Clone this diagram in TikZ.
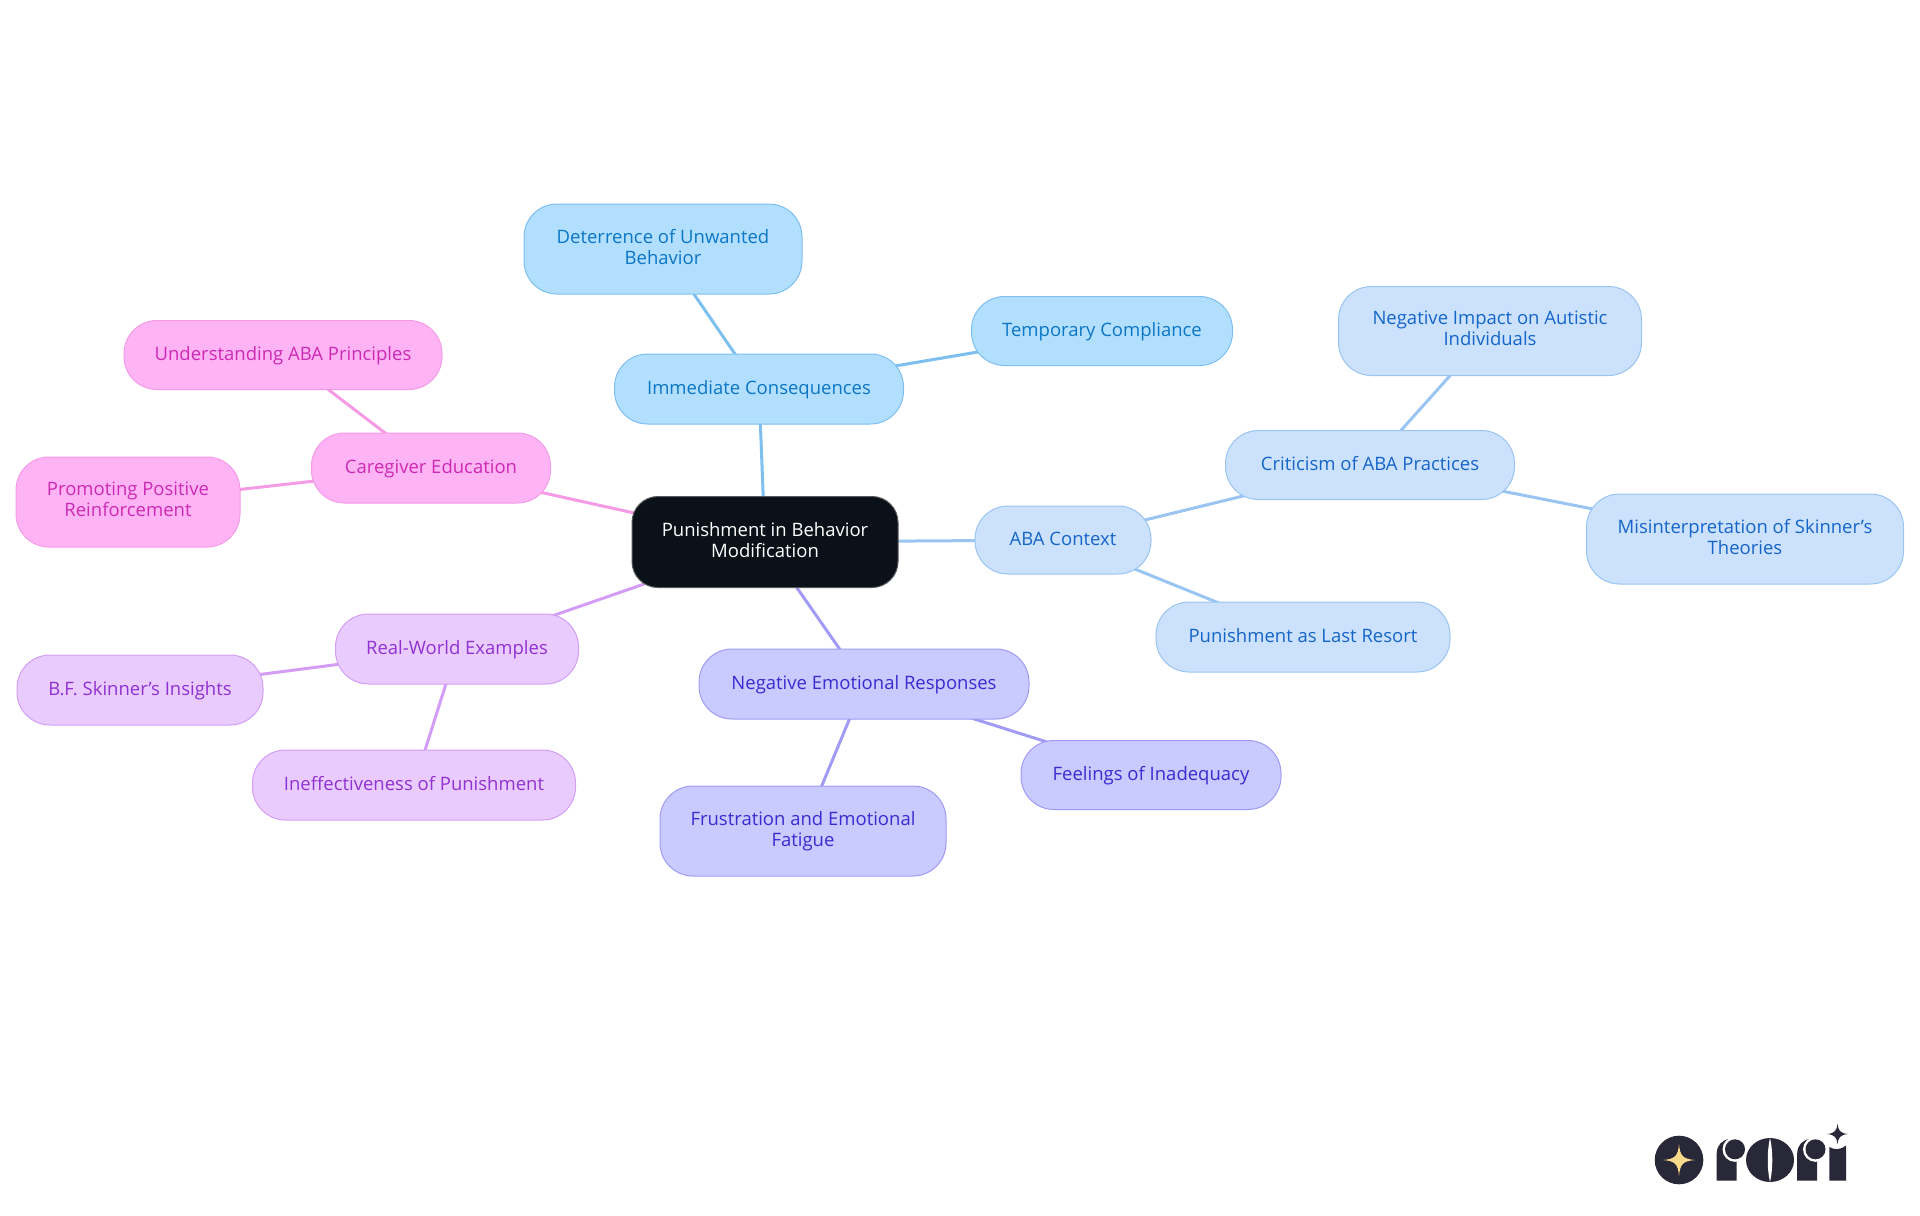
\documentclass[tikz,border=0pt]{standalone}
\usepackage{fontspec}
\setmainfont{Open Sans}
\usetikzlibrary{backgrounds}
\definecolor{immediatefill}{HTML}{B3DFFF}
\definecolor{immediateline}{HTML}{7DC0F0}
\definecolor{immediatetext}{HTML}{0B76C4}
\definecolor{abafill}{HTML}{CCE2FC}
\definecolor{abaline}{HTML}{9AC4F2}
\definecolor{abatext}{HTML}{1565C8}
\definecolor{negativefill}{HTML}{C9CAFE}
\definecolor{negativeline}{HTML}{A29BF5}
\definecolor{negativetext}{HTML}{3A2CCF}
\definecolor{examplefill}{HTML}{E9CCFD}
\definecolor{exampleline}{HTML}{D49DF5}
\definecolor{exampletext}{HTML}{9031D0}
\definecolor{caregiverfill}{HTML}{FEB4F4}
\definecolor{caregiverline}{HTML}{F59BE6}
\definecolor{caregivertext}{HTML}{CC2AB5}
\definecolor{rootfill}{HTML}{0B1119}
\definecolor{logodark}{HTML}{292838}
\definecolor{logostar}{HTML}{FBD98A}
\newcommand{\linestrut}{\rule[-2.35pt]{0pt}{10.5pt}}
\tikzset{
    mapnode/.style={rounded corners=16.5pt, line width=0.5pt, align=center, inner sep=0pt,
        font=\fontsize{9.25}{10.5}\selectfont,
        execute at begin node=\linestrut, execute at end node=\linestrut},
    boxsize/.style 2 args={minimum width=#1*0.5pt, minimum height=#2*0.5pt},
    immediatenode/.style={mapnode, fill=immediatefill, draw=immediateline, text=immediatetext},
    abanode/.style={mapnode, fill=abafill, draw=abaline, text=abatext},
    negativenode/.style={mapnode, fill=negativefill, draw=negativeline, text=negativetext},
    examplenode/.style={mapnode, fill=examplefill, draw=exampleline, text=exampletext},
    caregivernode/.style={mapnode, fill=caregiverfill, draw=caregiverline, text=caregivertext},
    rootnode/.style={mapnode, rounded corners=13pt, fill=rootfill, draw=gray!70!black, text=white},
    link/.style={line width=1.5pt}
}
\begin{document}
\begin{tikzpicture}[x=0.5pt, y=-0.5pt]
    \useasboundingbox (0,0) rectangle (1920,1215);

    \node[rootnode, boxsize={266}{91}] (root) at (765,542) {Punishment in Behavior\\Modification};

    \node[immediatenode, boxsize={289}{70}] (immediate) at (759,389) {Immediate Consequences};
    \node[immediatenode, boxsize={278}{90}] (deterrence) at (663,249) {Deterrence of Unwanted\\Behavior};
    \node[immediatenode, boxsize={261}{69}] (temporary) at (1102,331) {Temporary Compliance};

    \node[abanode, boxsize={176}{68}] (context) at (1063,540) {ABA Context};
    \node[abanode, boxsize={289}{69}] (criticism) at (1370,465) {Criticism of ABA Practices};
    \node[abanode, boxsize={303}{89}] (impact) at (1490,331) {Negative Impact on Autistic\\Individuals};
    \node[abanode, boxsize={317}{90}] (skinner) at (1745,539) {Misinterpretation of Skinner's\\Theories};
    \node[abanode, boxsize={294}{70}] (resort) at (1303,637) {Punishment as Last Resort};

    \node[negativenode, boxsize={330}{70}] (negative) at (864,684) {Negative Emotional Responses};
    \node[negativenode, boxsize={260}{69}] (inadequacy) at (1151,775) {Feelings of Inadequacy};
    \node[negativenode, boxsize={286}{90}] (frustration) at (803,831) {Frustration and Emotional\\Fatigue};

    \node[examplenode, boxsize={243}{70}] (examples) at (457,649) {Real-World Examples};
    \node[examplenode, boxsize={246}{70}] (insights) at (140,690) {B.F. Skinner's Insights};
    \node[examplenode, boxsize={323}{70}] (ineffective) at (414,785) {Ineffectiveness of Punishment};

    \node[caregivernode, boxsize={239}{70}] (caregiver) at (431,468) {Caregiver Education};
    \node[caregivernode, boxsize={318}{69}] (principles) at (283,355) {Understanding ABA Principles};
    \node[caregivernode, boxsize={224}{90}] (promoting) at (128,502) {Promoting Positive\\Reinforcement};

    \begin{scope}[on background layer]
        \draw[link, immediateline] (root.center) -- (immediate.center);
        \draw[link, immediateline] (immediate.center) -- (deterrence.center);
        \draw[link, immediateline] (immediate.center) -- (temporary.center);
        \draw[link, abaline] (root.center) -- (context.center);
        \draw[link, abaline] (context.center) -- (criticism.center);
        \draw[link, abaline] (context.center) -- (resort.center);
        \draw[link, abaline] (criticism.center) -- (impact.center);
        \draw[link, abaline] (criticism.center) -- (skinner.center);
        \draw[link, negativeline] (root.center) -- (negative.center);
        \draw[link, negativeline] (negative.center) -- (inadequacy.center);
        \draw[link, negativeline] (negative.center) -- (frustration.center);
        \draw[link, exampleline] (root.center) -- (examples.center);
        \draw[link, exampleline] (examples.center) -- (insights.center);
        \draw[link, exampleline] (examples.center) -- (ineffective.center);
        \draw[link, caregiverline] (root.center) -- (caregiver.center);
        \draw[link, caregiverline] (caregiver.center) -- (principles.center);
        \draw[link, caregiverline] (caregiver.center) -- (promoting.center);
    \end{scope}

    \fill[logodark] (1679,1160) circle (24.3);
    \fill[logostar] (1663,1160) .. controls (1675,1159) and (1678,1156) .. (1679,1144)
        .. controls (1680,1156) and (1683,1159) .. (1695,1160)
        .. controls (1683,1161) and (1680,1164) .. (1679,1176)
        .. controls (1678,1164) and (1675,1161) .. (1663,1160) -- cycle;
    \foreach \x in {0,80.5} {
        \fill[logodark] (1716.7+\x,1180.7) -- (1716.7+\x,1153) .. controls (1717+\x,1145) and (1722+\x,1140) .. (1730+\x,1138.7)
            -- (1736.7+\x,1140) -- (1736.7+\x,1180.7) -- cycle;
        \fill[white] (1735+\x,1149.3) circle (12.5);
        \fill[logodark] (1735+\x,1149.3) circle (10);
    }
    \fill[logodark] (1770,1160) ellipse (24 and 22);
    \fill[white] (1770,1138) .. controls (1767,1150) and (1767,1170) .. (1770,1182)
        .. controls (1773,1170) and (1773,1150) .. (1770,1138) -- cycle;
    \fill[logodark] (1829.3,1180.7) -- (1829.3,1147) .. controls (1834,1150) and (1841,1150) .. (1846,1145.5)
        -- (1846,1180.7) -- cycle;
    \fill[logodark] (1837.5,1124) .. controls (1838.2,1130) and (1840,1133.4) .. (1848,1134)
        .. controls (1840,1134.6) and (1838.2,1138) .. (1837.5,1144)
        .. controls (1836.8,1138) and (1835,1134.6) .. (1827,1134)
        .. controls (1835,1133.4) and (1836.8,1130) .. (1837.5,1124) -- cycle;
\end{tikzpicture}
\end{document}
